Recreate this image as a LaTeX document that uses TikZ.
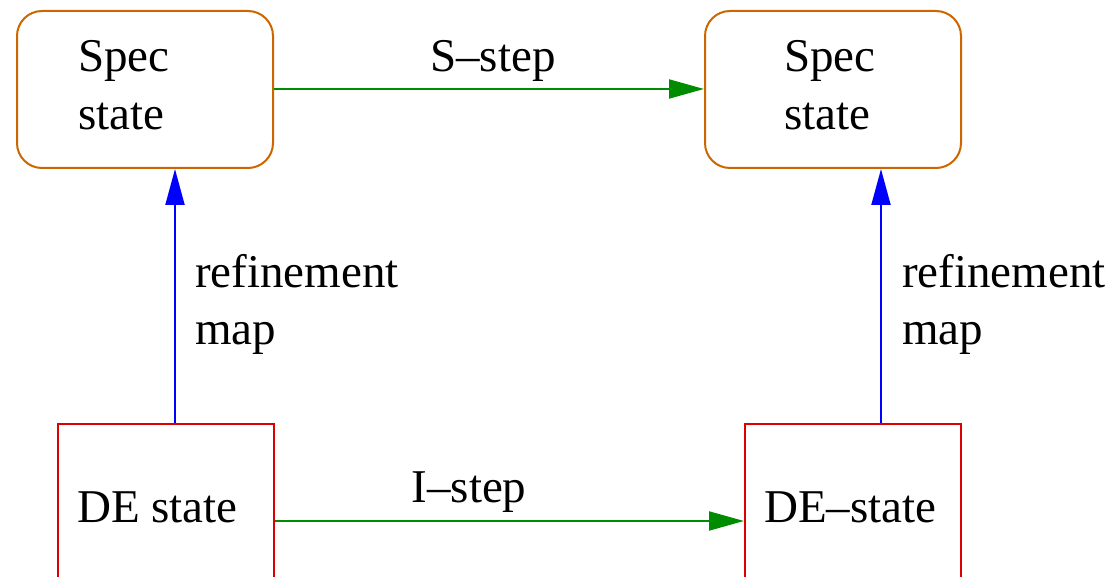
\documentclass[tikz,border=0pt]{standalone}
\usepackage{fontspec}
\setmainfont{Liberation Serif}
\usetikzlibrary{arrows.meta}
\definecolor{specorange}{RGB}{204,102,0}
\definecolor{deRed}{RGB}{220,0,0}
\definecolor{arrowgreen}{RGB}{0,140,0}
\definecolor{arrowblue}{RGB}{0,0,255}
\tikzset{
  specbox/.style={draw=specorange, line width=2pt, rounded corners=25pt, minimum width=256pt, minimum height=157pt, inner sep=0pt},
  debox/.style={draw=deRed, line width=2pt, minimum width=216pt, minimum height=200pt, inner sep=0pt},
  txt/.style={font=\fontsize{47}{58}\selectfont, inner sep=0pt, align=left},
  sarrow/.style={draw=arrowgreen, line width=2pt, -{Triangle[length=35pt,width=19pt]}},
  rarrow/.style={draw=arrowblue, line width=2pt, -{Triangle[length=36pt,width=19pt]}},
}
\begin{document}
\begin{tikzpicture}[x=1pt,y=1pt]
\useasboundingbox (0,0) rectangle (1112,-577);
\clip (0,0) rectangle (1112,-577);
% boxes
\node[specbox] (s1) at (145,-89.5) {};
\node[specbox] (s2) at (833,-89.5) {};
\node[debox, anchor=north west] (d1) at (57,-423) {};
\node[debox, anchor=north west] (d2) at (744,-423) {};
% texts (base anchor = baseline of the last line)
\node[txt, anchor=base west] (s1t) at (78,-130) {Spec\\state};
\node[txt, anchor=base west] (s2t) at (784,-130) {Spec\\state};
\node[txt, anchor=base west] (d1t) at (77,-522) {DE state};
\node[txt, anchor=base west] (d2t) at (764,-522) {DE\textendash state};
% connectors
\coordinate (s1e) at (273,-89);
\draw[sarrow] (s1.east |- s1e) -- (s2.west |- s1e);
\node[txt, anchor=base] (sl) at (493,-72) {S\textendash step};
\coordinate (d1e) at (273,-521);
\draw[sarrow] (d1.east |- d1e) -- (d2.west |- d1e);
\node[txt, anchor=base] (il) at (469,-502) {I\textendash step};
\coordinate (bl) at (175,0);
\coordinate (br) at (881,0);
\draw[rarrow] (d1.north -| bl) -- (s1.south -| bl);
\draw[rarrow] (d2.north -| br) -- (s2.south -| br);
\node[txt, anchor=base west] (r1) at (195,-345) {refinement\\map};
\node[txt, anchor=base west] (r2) at (902,-345) {refinement\\map};
\end{tikzpicture}
\end{document}
